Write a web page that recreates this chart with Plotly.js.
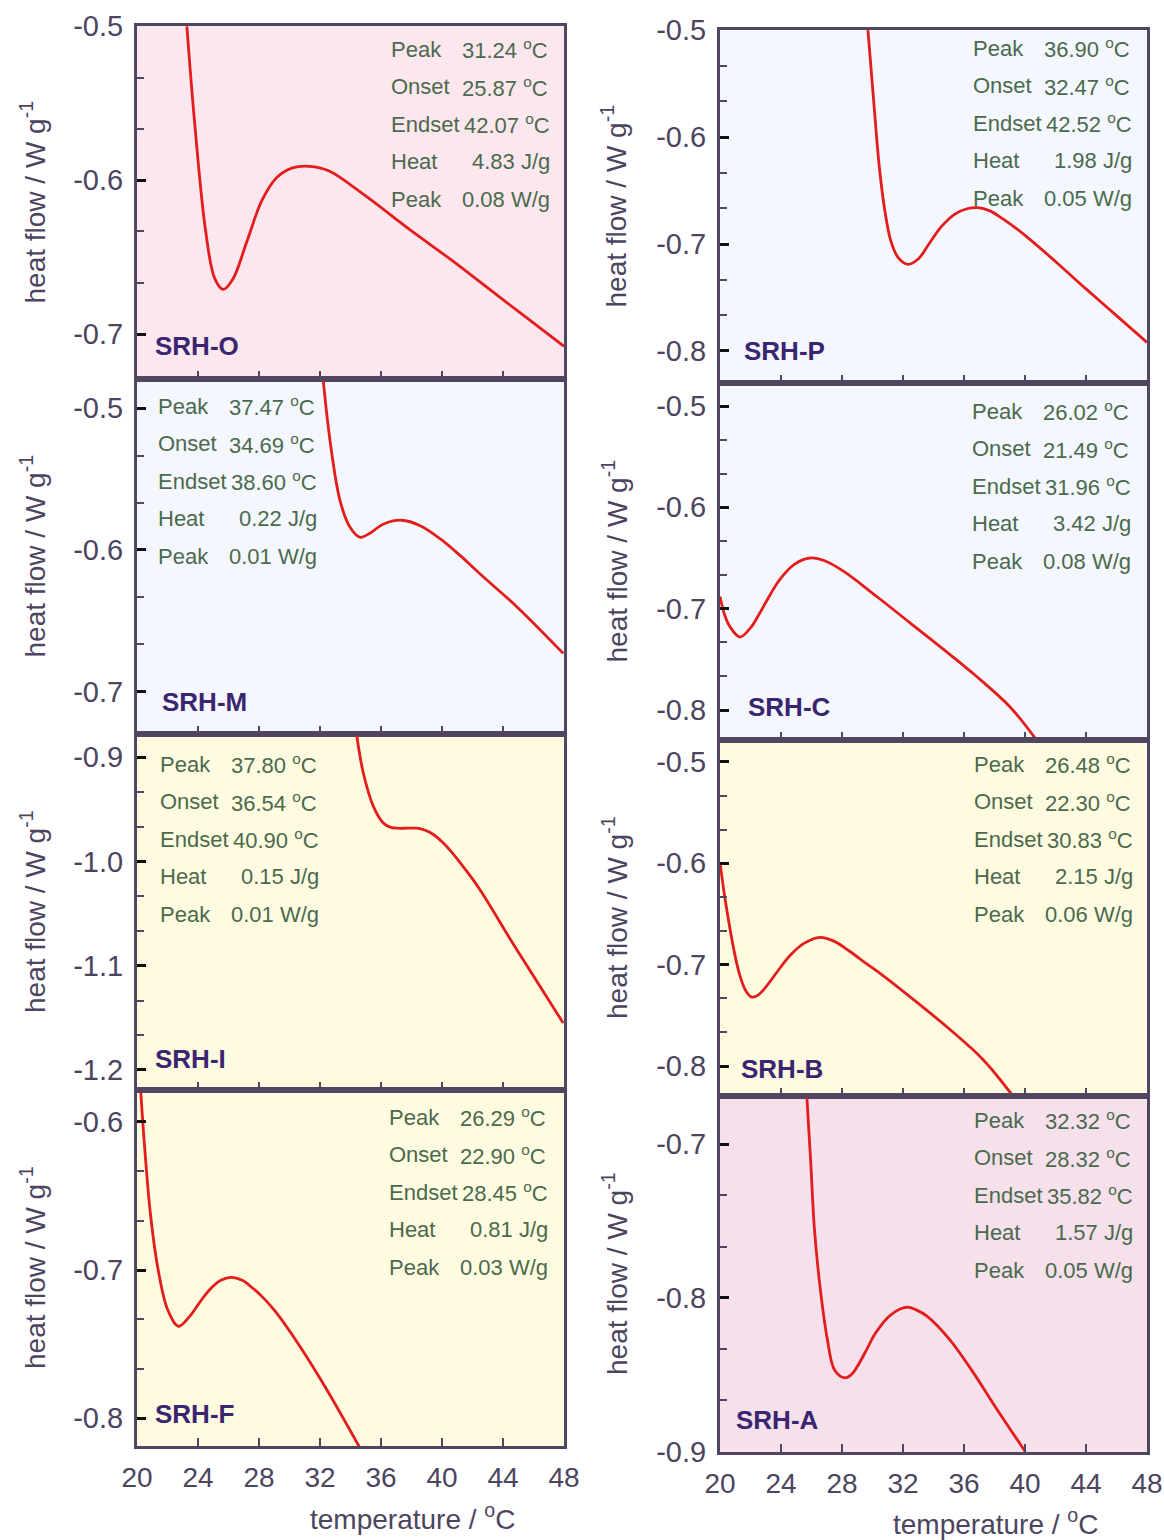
<!DOCTYPE html>
<html>
<head>
<meta charset="utf-8">
<script src="https://cdn.plot.ly/plotly-3.0.1.min.js"></script>
<style>html,body{margin:0;padding:0;background:#fff;}#chart{width:1164px;height:1540px;}</style>
</head>
<body>
<div id="chart"></div>
<script>
// ---------------- DATA ----------------
const statLabels = ["Peak", "Onset", "Endset", "Heat", "Peak"];

const tempO = [23.27, 23.8, 24.5, 25.1, 25.65, 26.3, 27.2, 28.2, 29.2, 30.2, 31.3, 32.6, 34.0, 35.5, 38.0, 40.5, 43.0, 45.5, 48];
const hfO   = [-0.500, -0.565, -0.633, -0.664, -0.671, -0.664, -0.640, -0.613, -0.598, -0.592, -0.591, -0.594, -0.603, -0.614, -0.633, -0.651, -0.670, -0.689, -0.708];
const statsO = ["31.24 <sup>o</sup>C", "25.87 <sup>o</sup>C", "42.07 <sup>o</sup>C", "4.83 J/g", "0.08 W/g"];
const yTicksO = [-0.5, -0.6, -0.7];
const yTextO  = ["-0.5", "-0.6", "-0.7"];

const tempP = [29.7, 30.07, 30.44, 30.8, 31.2, 31.7, 32.32, 33.0, 33.7, 34.5, 35.4, 36.2, 36.9, 37.7, 38.6, 40.1, 42.05, 44.0, 46.0, 48];
const hfP   = [-0.500, -0.565, -0.627, -0.668, -0.697, -0.713, -0.719, -0.714, -0.700, -0.684, -0.672, -0.667, -0.666, -0.669, -0.677, -0.693, -0.717, -0.742, -0.767, -0.792];
const statsP = ["36.90 <sup>o</sup>C", "32.47 <sup>o</sup>C", "42.52 <sup>o</sup>C", "1.98 J/g", "0.05 W/g"];
const yTicksP = [-0.5, -0.6, -0.7, -0.8];
const yTextP  = ["-0.5", "-0.6", "-0.7", "-0.8"];

const tempM = [32.22, 32.66, 33.31, 33.97, 34.62, 35.3, 36.1, 37.36, 38.6, 39.87, 41.2, 42.5, 44.9, 47.95];
const hfM   = [-0.481, -0.523, -0.565, -0.584, -0.591, -0.588, -0.582, -0.579, -0.583, -0.592, -0.604, -0.617, -0.640, -0.673];
const statsM = ["37.47 <sup>o</sup>C", "34.69 <sup>o</sup>C", "38.60 <sup>o</sup>C", "0.22 J/g", "0.01 W/g"];
const yTicksM = [-0.5, -0.6, -0.7];
const yTextM  = ["-0.5", "-0.6", "-0.7"];

const tempC = [20, 20.3, 20.66, 21.31, 22.0, 22.62, 23.3, 23.93, 24.9, 25.90, 26.9, 28.09, 30.28, 32.46, 34.64, 36.83, 39.02, 40.77];
const hfC   = [-0.688, -0.706, -0.718, -0.728, -0.719, -0.704, -0.686, -0.671, -0.656, -0.650, -0.653, -0.663, -0.688, -0.714, -0.740, -0.767, -0.797, -0.830];
const statsC = ["26.02 <sup>o</sup>C", "21.49 <sup>o</sup>C", "31.96 <sup>o</sup>C", "3.42 J/g", "0.08 W/g"];
const yTicksC = [-0.5, -0.6, -0.7, -0.8];
const yTextC  = ["-0.5", "-0.6", "-0.7", "-0.8"];

const tempI = [34.41, 34.84, 35.50, 36.15, 36.6, 37.03, 37.7, 38.34, 38.9, 39.43, 40.0, 40.52, 41.5, 42.49, 44.67, 46.87, 47.95];
const hfI   = [-0.879, -0.915, -0.947, -0.963, -0.967, -0.968, -0.968, -0.968, -0.970, -0.974, -0.981, -0.989, -1.007, -1.027, -1.079, -1.130, -1.155];
const statsI = ["37.80 <sup>o</sup>C", "36.54 <sup>o</sup>C", "40.90 <sup>o</sup>C", "0.15 J/g", "0.01 W/g"];
const yTicksI = [-0.9, -1.0, -1.1, -1.2];
const yTextI  = ["-0.9", "-1.0", "-1.1", "-1.2"];

const tempB = [20, 20.3, 20.66, 21.0, 21.31, 21.7, 22.08, 22.5, 23.06, 23.8, 24.59, 25.5, 26.56, 27.5, 28.52, 29.6, 30.71, 32.90, 35.08, 37.27, 39.23];
const hfB   = [-0.599, -0.632, -0.665, -0.692, -0.711, -0.726, -0.732, -0.730, -0.721, -0.706, -0.691, -0.679, -0.673, -0.677, -0.687, -0.699, -0.711, -0.737, -0.764, -0.794, -0.830];
const statsB = ["26.48 <sup>o</sup>C", "22.30 <sup>o</sup>C", "30.83 <sup>o</sup>C", "2.15 J/g", "0.06 W/g"];
const yTicksB = [-0.5, -0.6, -0.7, -0.8];
const yTextB  = ["-0.5", "-0.6", "-0.7", "-0.8"];

const tempF = [20.25, 20.5, 20.88, 21.39, 22.02, 22.72, 23.4, 24.1, 24.79, 25.5, 26.17, 26.9, 27.56, 28.3, 29.07, 30.58, 32.34, 34.61];
const hfF   = [-0.580, -0.617, -0.662, -0.700, -0.727, -0.738, -0.732, -0.722, -0.713, -0.707, -0.705, -0.707, -0.712, -0.719, -0.728, -0.750, -0.779, -0.820];
const statsF = ["26.29 <sup>o</sup>C", "22.90 <sup>o</sup>C", "28.45 <sup>o</sup>C", "0.81 J/g", "0.03 W/g"];
const yTicksF = [-0.6, -0.7, -0.8];
const yTextF  = ["-0.6", "-0.7", "-0.8"];

const tempA = [25.7, 25.95, 26.19, 26.55, 27.04, 27.52, 28.2, 28.6, 28.98, 29.6, 30.19, 31.2, 32.26, 32.9, 33.59, 35.05, 36.5, 38.2, 40.02];
const hfA   = [-0.670, -0.712, -0.755, -0.792, -0.827, -0.847, -0.852, -0.850, -0.845, -0.834, -0.823, -0.811, -0.806, -0.808, -0.812, -0.827, -0.847, -0.873, -0.900];
const statsA = ["32.32 <sup>o</sup>C", "28.32 <sup>o</sup>C", "35.82 <sup>o</sup>C", "1.57 J/g", "0.05 W/g"];
const yTicksA = [-0.7, -0.8, -0.9];
const yTextA  = ["-0.7", "-0.8", "-0.9"];

const xTicks = [20, 24, 28, 32, 36, 40, 44, 48];
const xText  = ["20", "24", "28", "32", "36", "40", "44", "48"];

const sampleNames = ["SRH-O", "SRH-P", "SRH-M", "SRH-C", "SRH-I", "SRH-B", "SRH-F", "SRH-A"];
const xTitle = "temperature / <sup>o</sup>C";
const yTitle = "heat flow / W g<sup>-1</sup>";

// ---------------- LAYOUT / STYLE ----------------
const W = 1164, H = 1540;
const frame = "#504660";
const tickText = "#4c4560";
const statColor = "#4b6a4d";
const nameColor = "#3a2670";
const curveColor = "#e31c1c";
const FONT = "Liberation Sans, Arial, sans-serif";

const panels = [
  {t: tempO, v: hfO, s: statsO, yt: yTicksO, ytx: yTextO, name: sampleNames[0], col: 0, top: 26,   bot: 379,  yr: [-0.7292, -0.4998], bg: "#fde7ef", sx: 389, sy: 49,   nx: 153, ny: 346},
  {t: tempP, v: hfP, s: statsP, yt: yTicksP, ytx: yTextP, name: sampleNames[1], col: 1, top: 30,   bot: 383,  yr: [-0.8300, -0.4998], bg: "#f4f7fd", sx: 971, sy: 48,   nx: 742, ny: 351},
  {t: tempM, v: hfM, s: statsM, yt: yTicksM, ytx: yTextM, name: sampleNames[2], col: 0, top: 379,  bot: 734,  yr: [-0.7299, -0.4793], bg: "#f4f7fd", sx: 156, sy: 406,  nx: 160, ny: 702},
  {t: tempC, v: hfC, s: statsC, yt: yTicksC, ytx: yTextC, name: sampleNames[3], col: 1, top: 383,  bot: 740,  yr: [-0.8296, -0.4773], bg: "#f4f7fd", sx: 970, sy: 411,  nx: 746, ny: 707},
  {t: tempI, v: hfI, s: statsI, yt: yTicksI, ytx: yTextI, name: sampleNames[4], col: 0, top: 734,  bot: 1090, yr: [-1.2192, -0.8776], bg: "#fefbe1", sx: 158, sy: 764,  nx: 153, ny: 1059},
  {t: tempB, v: hfB, s: statsB, yt: yTicksB, ytx: yTextB, name: sampleNames[5], col: 1, top: 740,  bot: 1096, yr: [-0.8296, -0.4783], bg: "#fefbe1", sx: 972, sy: 764,  nx: 739, ny: 1069},
  {t: tempF, v: hfF, s: statsF, yt: yTicksF, ytx: yTextF, name: sampleNames[6], col: 0, top: 1090, bot: 1446, yr: [-0.8189, -0.5784], bg: "#fefbe1", sx: 387, sy: 1117, nx: 153, ny: 1414},
  {t: tempA, v: hfA, s: statsA, yt: yTicksA, ytx: yTextA, name: sampleNames[7], col: 1, top: 1096, bot: 1452, yr: [-0.9002, -0.6688], bg: "#f5e0eb", sx: 972, sy: 1120, nx: 734, ny: 1420}
];
const colX = [[137, 564], [720, 1147]];

const px = x => x / W;
const py = y => 1 - y / H;

const data = [];
const layout = {
  width: W, height: H,
  margin: {l: 0, r: 0, t: 0, b: 0},
  paper_bgcolor: "#ffffff",
  plot_bgcolor: "rgba(0,0,0,0)",
  showlegend: false,
  font: {family: FONT, color: tickText},
  shapes: [],
  annotations: []
};

panels.forEach((p, i) => {
  const k = i + 1;
  const xa = "xaxis" + (k === 1 ? "" : k);
  const ya = "yaxis" + (k === 1 ? "" : k);
  const xr = "x" + (k === 1 ? "" : k);
  const yr = "y" + (k === 1 ? "" : k);
  const bottomRow = i >= 6;

  data.push({
    type: "scatter", mode: "lines",
    x: p.t, y: p.v,
    xaxis: xr, yaxis: yr,
    line: {color: curveColor, width: 2.8, shape: "spline", smoothing: 1.0},
    hoverinfo: "skip"
  });

  layout[xa] = {
    domain: [px(colX[p.col][0]), px(colX[p.col][1])],
    anchor: yr,
    range: [20, 48],
    tickmode: "array", tickvals: xTicks, ticktext: xText,
    ticks: "inside", ticklen: 8, tickwidth: 2.5, tickcolor: frame,
    showticklabels: bottomRow,
    ticklabelstandoff: 4,
    tickfont: {size: 28, color: tickText, family: FONT},
    showline: true, mirror: true, linecolor: frame, linewidth: 3,
    showgrid: false, zeroline: false, fixedrange: true
  };
  layout[ya] = {
    domain: [py(p.bot), py(p.top)],
    anchor: xr,
    range: p.yr,
    tickmode: "array", tickvals: p.yt, ticktext: p.ytx,
    ticks: "inside", ticklen: 9, tickwidth: 3, tickcolor: "#111111",
    ticklabelstandoff: 5,
    tickfont: {size: 29, color: tickText, family: FONT},
    minor: {tickmode: "linear", ticks: "inside", ticklen: 7, tickwidth: 2, tickcolor: frame, tick0: -0.5, dtick: 0.1 / 3, showgrid: false},
    showline: true, mirror: true, linecolor: frame, linewidth: 3,
    showgrid: false, zeroline: false, fixedrange: true
  };

  layout.shapes.push({
    type: "rect", layer: "below",
    xref: xr + " domain", yref: yr + " domain",
    x0: 0, x1: 1, y0: 0, y1: 1,
    fillcolor: p.bg, line: {width: 0}
  });

  layout.annotations.push({
    xref: "paper", yref: "paper", x: px(p.nx), y: py(p.ny),
    xanchor: "left", yanchor: "middle", showarrow: false,
    text: "<b>" + p.name + "</b>",
    font: {size: 26, color: nameColor, family: FONT}
  });

  statLabels.forEach((lab, j) => {
    const yy = p.sy + j * 37.6;
    layout.annotations.push({
      xref: "paper", yref: "paper", x: px(p.sx), y: py(yy),
      xanchor: "left", yanchor: "middle", showarrow: false,
      text: lab, font: {size: 22, color: statColor, family: FONT}
    });
    const off = (j === 3) ? 81 : (j === 2 ? 73 : 71);
    layout.annotations.push({
      xref: "paper", yref: "paper", x: px(p.sx + off), y: py(yy),
      xanchor: "left", yanchor: "middle", showarrow: false,
      text: p.s[j], font: {size: 22, color: statColor, family: FONT}
    });
  });

  layout.annotations.push({
    xref: "paper", yref: "paper",
    x: px(p.col === 0 ? 33 : 615), y: py((p.top + p.bot) / 2),
    xanchor: "center", yanchor: "middle", showarrow: false,
    textangle: -90, text: yTitle,
    font: {size: 28, color: tickText, family: FONT}
  });
});

layout.annotations.push({
  xref: "paper", yref: "paper", x: px(412), y: py(1517),
  xanchor: "center", yanchor: "middle", showarrow: false,
  text: xTitle, font: {size: 28, color: tickText, family: FONT}
});
layout.annotations.push({
  xref: "paper", yref: "paper", x: px(995), y: py(1522),
  xanchor: "center", yanchor: "middle", showarrow: false,
  text: xTitle, font: {size: 28, color: tickText, family: FONT}
});

Plotly.newPlot("chart", data, layout, {staticPlot: true, displayModeBar: false});
</script>
</body>
</html>
